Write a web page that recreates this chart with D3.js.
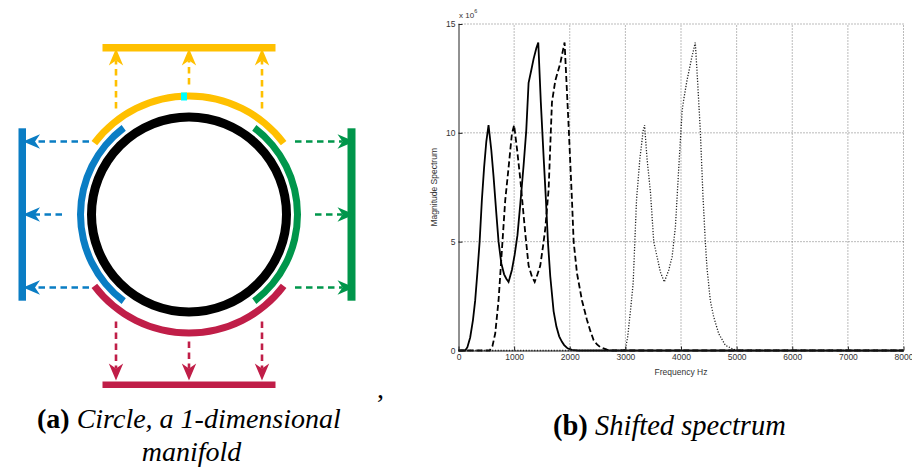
<!DOCTYPE html>
<html><head><meta charset="utf-8">
<script src="https://cdn.jsdelivr.net/npm/d3@7"></script>
<style>body{margin:0;background:#fff}svg{display:block}</style>
</head><body>
<script>
// ---------- Panel (b) data: magnitude spectrum (x 10^6) vs frequency (Hz) ----------
const freqTicks = [0,1000,2000,3000,4000,5000,6000,7000,8000];
const magTicks = [0,5,10,15];
const originalSpectrum = [[0,0],[120,0],[160,0.15],[210,0.6],[260,1.4],[300,2.3],[340,3.6],[380,5.0],[420,6.9],[460,8.4],[500,9.6],[540,10.35],[590,9.2],[630,8.0],[680,6.3],[720,5.0],[770,4.0],[820,3.5],[860,3.3],[900,3.15],[960,3.7],[1010,4.4],[1060,5.3],[1110,6.7],[1170,8.5],[1218,10.1],[1260,12.3],[1310,12.9],[1350,13.4],[1400,13.9],[1434,14.15],[1480,11.4],[1530,8.9],[1570,7.0],[1610,4.9],[1650,3.4],[1710,1.8],[1760,1.1],[1810,0.65],[1860,0.4],[1900,0.25],[1960,0.1],[2040,0.03],[2150,0],[8000,0]];
const shiftedSpectrum = [[0,0],[560,0],[610,0.2],[660,0.78],[720,2.3],[780,4.6],[840,6.9],[900,8.4],[960,9.95],[1000,10.35],[1050,9.3],[1110,7.9],[1160,6.5],[1200,5.4],[1260,3.9],[1320,3.4],[1370,3.15],[1420,3.5],[1470,3.9],[1520,4.8],[1560,5.6],[1620,7.4],[1680,11.4],[1740,12.4],[1830,13.2],[1907,14.15],[1980,10.3],[2040,6.9],[2070,5.0],[2130,3.55],[2220,2.3],[2310,1.4],[2370,0.9],[2430,0.47],[2490,0.28],[2550,0.15],[2670,0.04],[2750,0],[8000,0]];
const farShiftedSpectrum = [[0,0],[2950,0],[3000,0.05],[3040,0.6],[3080,1.55],[3110,2.3],[3140,3.1],[3170,5.0],[3200,6.9],[3260,8.8],[3320,10.1],[3345,10.35],[3390,8.8],[3450,7.3],[3510,5.0],[3570,4.3],[3630,3.6],[3700,3.15],[3780,3.7],[3840,4.3],[3900,5.7],[3960,8.4],[4020,11.0],[4047,11.5],[4107,12.4],[4197,13.5],[4257,14.15],[4300,12.3],[4347,10.1],[4395,7.1],[4437,5.0],[4467,3.8],[4527,2.3],[4587,1.55],[4677,0.78],[4797,0.24],[4947,0.05],[5000,0],[8000,0]];

// ---------- Panel (a) layout: circle and four chart projections ----------
const arcSides = [
  {name:"top",    color:"#FFC000", mid:0,   r:118.5},
  {name:"right",  color:"#00964B", mid:90,  r:108.5},
  {name:"bottom", color:"#C01E48", mid:180, r:118.5},
  {name:"left",   color:"#0A7DC4", mid:270, r:108.5}
];
const arcHalfSpan = 53;
const arrowOffsets = [-73, 0, 73];

const svg = d3.select("body").append("svg").attr("width",912).attr("height",472);
const font = "'Liberation Sans', Arial, Helvetica, sans-serif";
const serif = "'Liberation Serif', 'Times New Roman', serif";

// ================= Panel (a) =================
const A = svg.append("g");
const cx = 189, cy = 214.5;
const rad = d => d*Math.PI/180;

// coloured arcs
const arcGen = d3.arc();
arcSides.forEach(s => {
  A.append("path")
    .attr("transform",`translate(${cx},${cy})`)
    .attr("d", arcGen({innerRadius:s.r-3.5, outerRadius:s.r+3.5,
                       startAngle:rad(s.mid-arcHalfSpan), endAngle:rad(s.mid+arcHalfSpan)}))
    .attr("fill", s.color);
});
// black circle
A.append("circle").attr("cx",cx).attr("cy",cy).attr("r",97.5)
  .attr("fill","none").attr("stroke","#000").attr("stroke-width",9);
// cyan marker on top arc
A.append("rect").attr("x",cx-8).attr("y",cy-122).attr("width",6).attr("height",8).attr("fill","#00FFFF");

// bars (projection lines)
const barHalf = 86.5, barDist = 170.5, barW = 7.5, vHalf = 86.2;
A.append("rect").attr("x",cx-barHalf).attr("y",cy-barDist).attr("width",2*barHalf).attr("height",barW).attr("fill","#FFC000");
A.append("rect").attr("x",cx-barHalf).attr("y",cy+barDist-barW+4).attr("width",2*barHalf).attr("height",barW-1).attr("fill","#C01E48");
A.append("rect").attr("x",cx-barDist).attr("y",cy-vHalf).attr("width",barW).attr("height",2*vHalf).attr("fill","#0A7DC4");
A.append("rect").attr("x",cx+barDist-barW-4.5).attr("y",cy-vHalf).attr("width",barW+0.5).attr("height",2*vHalf).attr("fill","#00964B");

// arrows: dashed shaft + stealth head. dir unit vector
function arrow(x1,y1,x2,y2,color){
  const dx=x2-x1, dy=y2-y1, L=Math.hypot(dx,dy), ux=dx/L, uy=dy/L, px=-uy, py=ux;
  const len=17, hw=7.2, notch=12;
  const bx=x2-ux*notch, by=y2-uy*notch;
  A.append("line").attr("x1",x1).attr("y1",y1).attr("x2",bx).attr("y2",by)
    .attr("stroke",color).attr("stroke-width",2.6).attr("stroke-dasharray","6.5,4.5");
  const pts=[[x2,y2],[x2-ux*len+px*hw,y2-uy*len+py*hw],[bx,by],[x2-ux*len-px*hw,y2-uy*len-py*hw]];
  A.append("path").attr("d","M"+pts.map(p=>p.join(",")).join("L")+"Z").attr("fill",color);
}
arrowOffsets.forEach(o => {
  const mid = o===0;
  arrow(cx+o, cy-(mid?130:106), cx+o, cy-166, "#FFC000");
  arrow(cx+o, cy+(mid?127:107), cx+o, cy+166, "#C01E48");
  arrow(cx-(mid?127:100), cy+o, cx-166, cy+o, "#0A7DC4");
  arrow(cx+(mid?126:106), cy+o, cx+165.5, cy+o, "#00964B");
});

// comma
svg.append("text").attr("x",377).attr("y",398).attr("font-family",serif).attr("font-size",28).text(",");

// captions
const capA = svg.append("text").attr("x",37).attr("y",428).attr("font-family",serif).attr("font-size",28);
capA.append("tspan").attr("font-weight","bold").text("(a)");
capA.append("tspan").attr("font-style","italic").text(" Circle, a 1-dimensional");
svg.append("text").attr("x",191.5).attr("y",461).attr("text-anchor","middle").attr("font-family",serif)
  .attr("font-size",28).attr("font-style","italic").text("manifold");
const capB = svg.append("text").attr("x",553).attr("y",435).attr("font-family",serif).attr("font-size",28.5);
capB.append("tspan").attr("font-weight","bold").text("(b)");
capB.append("tspan").attr("font-style","italic").text(" Shifted spectrum");

// ================= Panel (b) =================
const x = d3.scaleLinear().domain([0,8000]).range([458.5,903.5]);
const y = d3.scaleLinear().domain([0,15]).range([350.5,24]);
const B = svg.append("g");

// grid
B.selectAll(".vg").data(freqTicks.slice(1)).join("line")
  .attr("x1",d=>x(d)).attr("x2",d=>x(d)).attr("y1",y(0)).attr("y2",y(15))
  .attr("stroke","#777").attr("stroke-width",1).attr("stroke-dasharray","1,2");
B.selectAll(".hg").data(magTicks.slice(1)).join("line")
  .attr("x1",x(0)).attr("x2",x(8000)).attr("y1",d=>y(d)).attr("y2",d=>y(d))
  .attr("stroke","#777").attr("stroke-width",1).attr("stroke-dasharray","1,2");

// curves
const line = d3.line().x(d=>x(d[0])).y(d=>y(d[1]));
B.append("path").datum(farShiftedSpectrum).attr("d",line).attr("fill","none")
  .attr("stroke","#222").attr("stroke-width",1.3).attr("stroke-dasharray","1.2,1.6");
B.append("path").datum(shiftedSpectrum).attr("d",line).attr("fill","none")
  .attr("stroke","#000").attr("stroke-width",1.8).attr("stroke-dasharray","6,3");
B.append("path").datum(originalSpectrum).attr("d",line).attr("fill","none")
  .attr("stroke","#000").attr("stroke-width",1.8);

// axes
const yAxis = B.append("g").attr("transform",`translate(${x(0)},0)`)
  .call(d3.axisLeft(y).tickValues(magTicks).tickFormat(d3.format("d")).tickSizeInner(-4).tickSizeOuter(0).tickPadding(3));
const xAxis = B.append("g").attr("transform",`translate(0,${y(0)})`)
  .call(d3.axisBottom(x).tickValues(freqTicks).tickFormat(d3.format("d")).tickSizeInner(-4).tickSizeOuter(0).tickPadding(3.5));
[yAxis,xAxis].forEach(g=>{
  g.selectAll("text").attr("font-family",font).attr("font-size",8.5).attr("fill","#333");
  g.select(".domain").attr("stroke","#222").attr("stroke-width",1);
  g.selectAll(".tick line").attr("stroke","#222");
});

// exponent label
const ex = B.append("text").attr("x",459).attr("y",17.5).attr("font-family",font).attr("font-size",8).attr("fill","#333");
ex.append("tspan").text("x 10");
ex.append("tspan").attr("font-size",5.5).attr("dy",-4.5).text("6");

// axis titles
B.append("text").attr("x",(x(0)+x(8000))/2).attr("y",375).attr("text-anchor","middle")
  .attr("font-family",font).attr("font-size",8.5).attr("fill","#333").text("Frequency Hz");
B.append("text").attr("transform",`translate(437,${(y(0)+y(15))/2}) rotate(-90)`).attr("text-anchor","middle")
  .attr("font-family",font).attr("font-size",8.5).attr("fill","#333").text("Magnitude Spectrum");
</script>
</body></html>
